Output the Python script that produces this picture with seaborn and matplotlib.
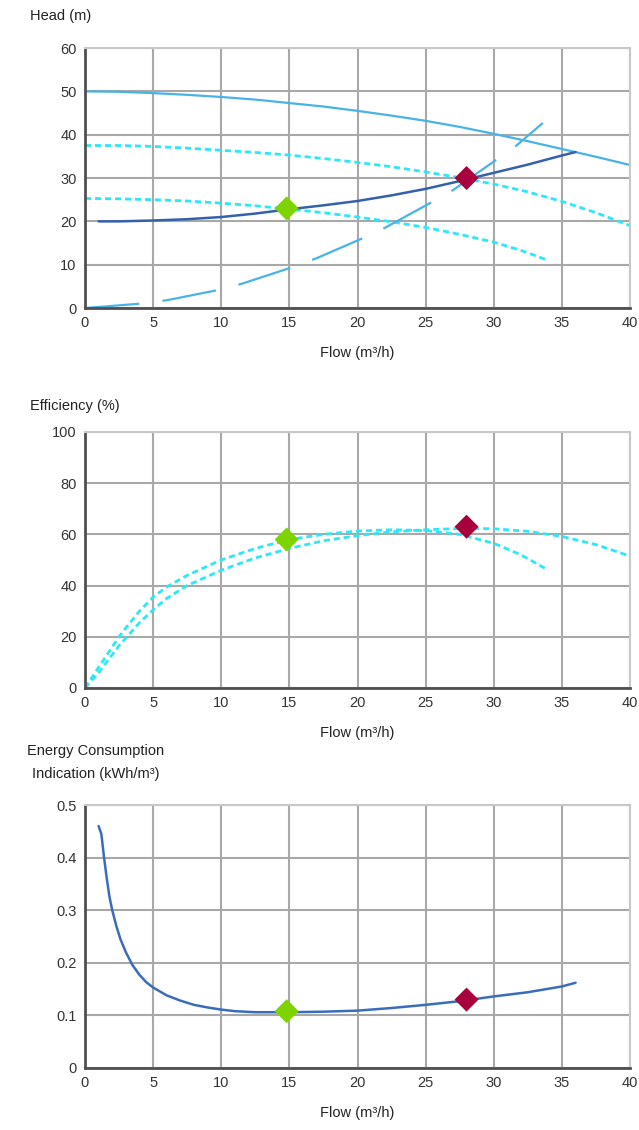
import numpy as np
import pandas as pd
import seaborn as sns
import matplotlib.pyplot as plt

############################## data ##############################
# head curves (m)
pump_q = [0, 2.5, 5, 7.5, 10, 12.5, 15, 17.5, 20, 22.5, 25, 27.5, 30, 32.5, 35, 37.5, 40]
pump_h = [50, 49.9, 49.6, 49.2, 48.7, 48.1, 47.3, 46.5, 45.5, 44.4, 43.2, 41.8, 40.2,
          38.5, 36.7, 34.9, 33]
speed1_q = [0, 2.5, 5, 7.5, 10, 12.5, 15, 17.5, 20, 22.5, 25, 27.5, 30, 32.5, 35, 37.5, 40]
speed1_h = [37.5, 37.5, 37.3, 36.9, 36.4, 35.9, 35.3, 34.5, 33.6, 32.6, 31.4, 30.1, 28.6,
            26.8, 24.6, 22, 19]
speed2_q = [0, 2.5, 5, 7.5, 10, 12.5, 15, 17.5, 20, 22.5, 25, 27.5, 30, 32, 34]
speed2_h = [25.3, 25.2, 25, 24.7, 24.2, 23.6, 22.8, 22, 21, 19.9, 18.6, 17, 15.2, 13.3, 11]
system_q = [1, 2.5, 5, 7.5, 10, 12.5, 15, 17.5, 20, 22.5, 25, 27.5, 30, 32.5, 35, 36]
system_h = [20, 20, 20.2, 20.5, 21, 21.8, 22.8, 23.7, 24.7, 26, 27.5, 29.3, 31.2, 33.1,
            35.2, 36]
control_q = [0, 4, 6, 10, 11.5, 15, 17, 20.3, 22, 25.2, 27, 30, 31.7, 33.6]
control_h = [0, 1, 1.8, 4.3, 5.6, 9.2, 11.5, 16, 18.5, 24, 27.2, 33.8, 37.6, 42.7]

# efficiency curves (%)
effA_q = [0, 0.5, 1, 1.5, 2, 2.5, 3, 4, 5, 6, 7.5, 10, 12.5, 15, 17.5, 20, 22.5, 25,
          27.5, 30, 32, 34]
effA = [0, 4, 8, 12, 16, 20, 23.5, 30, 35.5, 39.5, 44, 50, 54.5, 58, 60, 61.3, 61.8,
        61.5, 60, 56.5, 52, 46]
effB_q = [0, 0.5, 1, 1.5, 2, 2.5, 3, 4, 5, 6, 7.5, 10, 12.5, 15, 17.5, 20, 22.5, 25,
          27.5, 30, 32.5, 35, 37.5, 40]
effB = [0, 3, 6, 9.5, 13, 16.5, 19.5, 25.5, 30.5, 35, 40, 46, 50.8, 54.5, 57.5, 59.5,
        61, 61.8, 62.3, 62.2, 61.2, 59.2, 56, 51.5]

# energy consumption indication (kWh/m3)
energy_q = [1, 1.2, 1.4, 1.6, 1.8, 2, 2.3, 2.6, 3, 3.5, 4, 4.5, 5, 6, 7, 8, 9, 10, 11,
            12.5, 14, 15, 17.5, 20, 22.5, 25, 27.5, 30, 32.5, 35, 36]
energy = [0.46, 0.445, 0.40, 0.36, 0.325, 0.30, 0.27, 0.245, 0.22, 0.195, 0.177, 0.163,
          0.153, 0.138, 0.128, 0.12, 0.115, 0.111, 0.108, 0.106, 0.106, 0.106, 0.107,
          0.109, 0.114, 0.12, 0.127, 0.136, 0.144, 0.155, 0.162]

# duty points
duty_q = [14.8, 28]
duty_head = [23, 30]
duty_eff = [58, 63]
duty_energy = [0.108, 0.13]
duty_colors = ['#7ed400', '#a8003c']

############################## plotting ##############################
sns.set_style("white")
plt.rcParams['font.family'] = ['Liberation Sans', 'DejaVu Sans']

light = '#47b3e6'
cyan = '#2ae8f8'
dark = '#3560ad'
dots = (2.2, 1.4)

fig = plt.figure(figsize=(6.39, 11.30), dpi=100)
ax1 = fig.add_axes([0.133, 0.7274, 0.853, 0.2301])
ax2 = fig.add_axes([0.133, 0.3912, 0.853, 0.2265])
ax3 = fig.add_axes([0.133, 0.0549, 0.853, 0.2327])

sns.lineplot(x=pump_q, y=pump_h, ax=ax1, color=light, lw=1.6, sort=False)
sns.lineplot(x=speed1_q, y=speed1_h, ax=ax1, color=cyan, lw=2, sort=False)
ax1.lines[-1].set_dashes(dots)
sns.lineplot(x=speed2_q, y=speed2_h, ax=ax1, color=cyan, lw=2, sort=False)
ax1.lines[-1].set_dashes(dots)
sns.lineplot(x=system_q, y=system_h, ax=ax1, color=dark, lw=1.8, sort=False)
sns.lineplot(x=control_q, y=control_h, ax=ax1, color=light, lw=1.6, sort=False)
ax1.lines[-1].set_dashes((24.5, 10.5))

sns.lineplot(x=effA_q, y=effA, ax=ax2, color=cyan, lw=2, sort=False)
sns.lineplot(x=effB_q, y=effB, ax=ax2, color=cyan, lw=2, sort=False)
for ln in ax2.lines:
    ln.set_dashes(dots)

sns.lineplot(x=energy_q, y=energy, ax=ax3, color='#3a6cbd', lw=1.8, sort=False)

for ax, yv in [(ax1, duty_head), (ax2, duty_eff), (ax3, duty_energy)]:
    sns.scatterplot(x=duty_q, y=yv, ax=ax, hue=duty_q, palette=duty_colors,
                    marker='D', s=150, edgecolor='none', legend=False, zorder=5)

limits = [(ax1, 60, 10), (ax2, 100, 20), (ax3, 0.5, 0.1)]
for ax, top, step in limits:
    ax.set_xlim(0, 40)
    ax.set_ylim(0, top)
    ax.set_xticks(np.arange(0, 41, 5))
    ax.set_yticks(np.arange(0, top + step / 2, step))
    if top == 0.5:
        ax.set_yticklabels(['0', '0.1', '0.2', '0.3', '0.4', '0.5'])
    ax.grid(True, color='#a8a8a8', lw=1.5)
    ax.set_axisbelow(True)
    for s in ['top', 'right']:
        ax.spines[s].set_color('#c8c8c8')
        ax.spines[s].set_linewidth(1.5)
    for s in ['left', 'bottom']:
        ax.spines[s].set_color('#505050')
        ax.spines[s].set_linewidth(2)
    ax.tick_params(length=0, labelsize=10.5, labelcolor='#333333', pad=6)
    ax.set_xlabel('Flow (m³/h)', fontsize=10.5, color='#222222', labelpad=11)
    ax.set_ylabel('')

fig.text(0.047, 0.986, 'Head (m)', fontsize=10.5, color='#222222', va='center')
fig.text(0.047, 0.641, 'Efficiency (%)', fontsize=10.5, color='#222222', va='center')
fig.text(0.15, 0.3252, 'Energy Consumption\nIndication (kWh/m³)', fontsize=10.5,
         color='#222222', va='center', ha='center', linespacing=1.75)

plt.savefig('out.png', dpi=100)
